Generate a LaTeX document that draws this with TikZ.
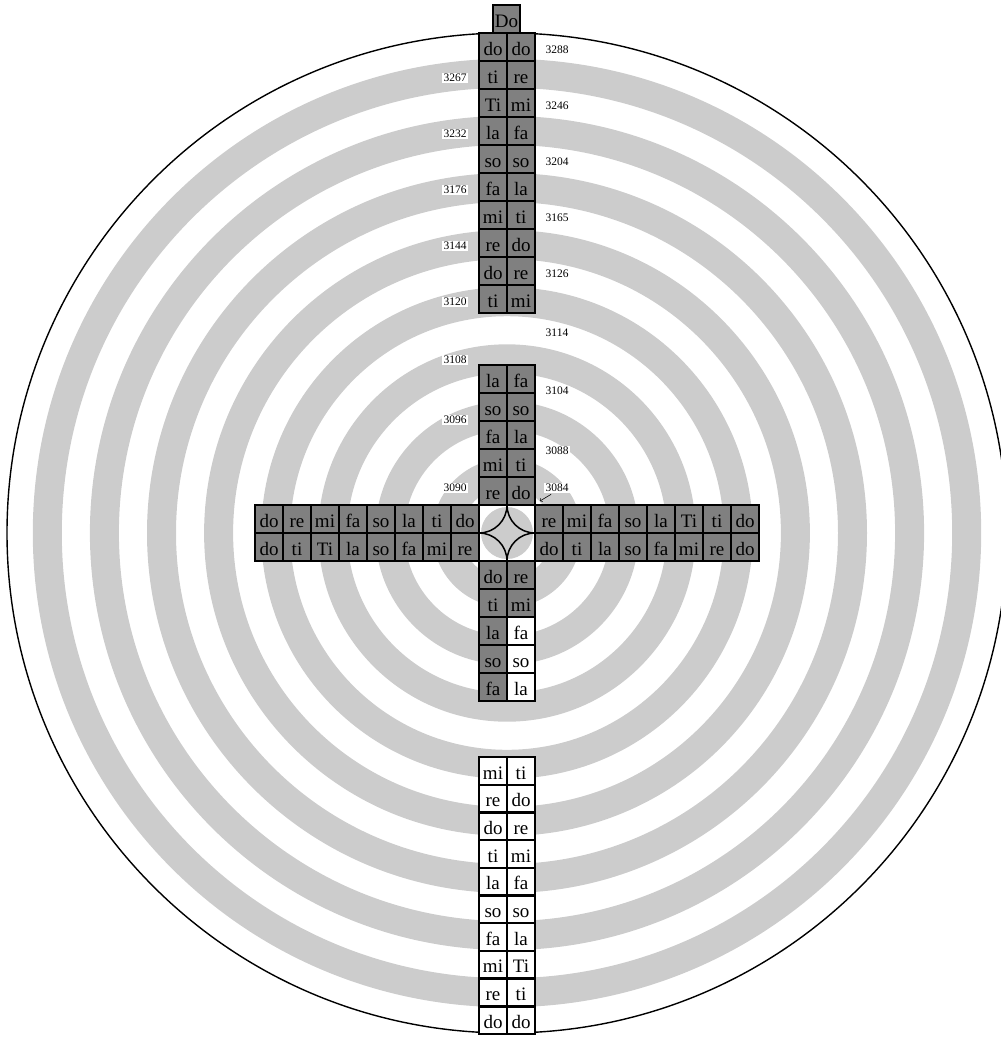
\documentclass[tikz,border=0pt]{standalone}
\usepackage{fontspec}
\setmainfont{Liberation Serif}
\definecolor{ringgray}{HTML}{CCCCCC}
\definecolor{cellgray}{HTML}{808080}
\begin{document}
\begin{tikzpicture}[x=1pt,y=-1pt,
  cell/.style={draw=black,line width=2.4pt,minimum width=28pt,minimum height=28pt,inner sep=0pt,text height=16.5pt,text depth=0pt,font=\fontsize{19}{20}\selectfont},
  gcell/.style={cell,fill=cellgray},
  wcell/.style={cell,fill=white},
  lcell/.style={cell,fill=white,minimum height=27.7pt,text height=16.3pt},
  lab/.style={fill=white,inner sep=1.2pt,font=\fontsize{11.5}{13}\selectfont},
  ring/.style={fill=ringgray,even odd rule}
  ]
\clip (0,0) rectangle (1001,1037);
\coordinate (c) at (507,533);
% concentric grey bands
\foreach \k in {0,...,7}{
  \pgfmathsetmacro\ro{74.5+57.1*\k}
  \pgfmathsetmacro\ri{45.5+57.1*\k}
  \fill[ring] (c) circle[radius={\ro pt}] (c) circle[radius={\ri pt}];
}
\draw[line width=1.4pt] (c) circle[radius=500pt];
% centre square with disk and star
\fill[white] (479,505) rectangle (535,561);
\fill[ringgray] (c) circle[radius=26pt];
\draw[line width=1.5pt] (507,505) .. controls (507,520.5) and (494.5,533) .. (479,533)
  .. controls (494.5,533) and (507,545.5) .. (507,561)
  .. controls (507,545.5) and (519.5,533) .. (535,533)
  .. controls (519.5,533) and (507,520.5) .. (507,505);
% top Do box
\node[gcell,minimum width=27pt] (Do) at (506.5,19) {Do};
% upper outer column
\foreach \a/\b [count=\i from 0] in {do/do,ti/re,Ti/mi,la/fa,so/so,fa/la,mi/ti,re/do,do/re,ti/mi}{
  \node[gcell] (ta\i) at (493,47+28*\i) {\a};
  \node[gcell] (tb\i) at (521,47+28*\i) {\b};
}
% upper inner column
\foreach \a/\b [count=\i from 0] in {la/fa,so/so,fa/la,mi/ti,re/do}{
  \node[gcell] (ua\i) at (493,379+28*\i) {\a};
  \node[gcell] (ub\i) at (521,379+28*\i) {\b};
}
% left arm
\foreach \a/\b [count=\i from 0] in {do/do,re/ti,mi/Ti,fa/la,so/so,la/fa,ti/mi,do/re}{
  \node[gcell] (la\i) at (269+28*\i,519) {\a};
  \node[gcell] (lb\i) at (269+28*\i,547) {\b};
}
% right arm
\foreach \a/\b [count=\i from 0] in {re/do,mi/ti,fa/la,so/so,la/fa,Ti/mi,ti/re,do/do}{
  \node[gcell] (ra\i) at (549+28*\i,519) {\a};
  \node[gcell] (rb\i) at (549+28*\i,547) {\b};
}
% lower inner column
\foreach \a/\b/\f [count=\i from 0] in {do/re/gcell,ti/mi/gcell,la/fa/wcell,so/so/wcell,fa/la/wcell}{
  \node[gcell] (da\i) at (493,575+28*\i) {\a};
  \node[\f] (db\i) at (521,575+28*\i) {\b};
}
% lowest column
\foreach \a/\b [count=\i from 0] in {mi/ti,re/do,do/re,ti/mi,la/fa,so/so,fa/la,mi/Ti,re/ti,do/do}{
  \node[lcell] (ba\i) at (493,770.85+27.7*\i) {\a};
  \node[lcell] (bb\i) at (521,770.85+27.7*\i) {\b};
}
% labels right
\foreach \t/\y in {3288/50,3246/106,3204/162,3165/218,3126/274,3114/333,3104/391,3088/451,3084/488}{
  \node[lab] (n\t) at (557,\y) {\t};
}
% labels left
\foreach \t/\y in {3267/78,3232/134,3176/190,3144/246,3120/302,3108/360,3096/420,3090/488}{
  \node[lab] (n\t) at (455,\y) {\t};
}
\coordinate (tip) at (540,501);
\draw[->,line width=0.6pt] ([xshift=7pt,yshift=-1pt]n3084.south west) -- (tip);
\end{tikzpicture}
\end{document}
